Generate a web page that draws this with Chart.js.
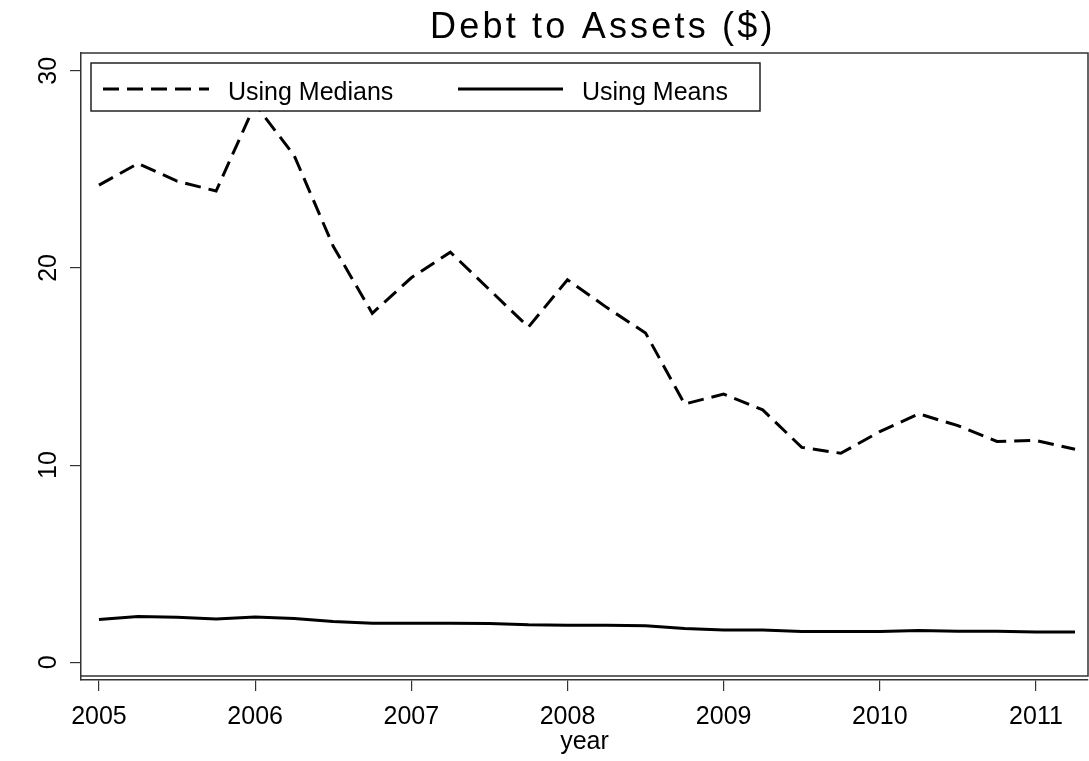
<!DOCTYPE html>
<html>
<head>
<meta charset="utf-8">
<title>Debt to Assets</title>
<script src="https://cdn.jsdelivr.net/npm/chart.js@4.4.1/dist/chart.umd.min.js"></script>
<style>
  html, body { margin: 0; padding: 0; background: #fff; }
  canvas { display: block; }
</style>
</head>
<body>
<canvas id="myChart" width="1089" height="761"></canvas>
<script>
// quarterly observations, 2005q1 .. 2011q2
var quarters = [2005, 2005.25, 2005.5, 2005.75, 2006, 2006.25, 2006.5, 2006.75,
                2007, 2007.25, 2007.5, 2007.75, 2008, 2008.25, 2008.5, 2008.75,
                2009, 2009.25, 2009.5, 2009.75, 2010, 2010.25, 2010.5, 2010.75,
                2011, 2011.25];
var medians = [24.2, 25.3, 24.4, 23.9, 28.3, 25.7, 21.1, 17.7,
               19.5, 20.8, 18.9, 17.0, 19.4, 18.0, 16.7, 13.1,
               13.6, 12.8, 10.9, 10.6, 11.7, 12.6, 12.0, 11.2,
               11.25, 10.8];
var means = [2.17, 2.32, 2.29, 2.2, 2.3, 2.22, 2.07, 1.98,
             1.98, 1.98, 1.97, 1.9, 1.88, 1.88, 1.85, 1.71,
             1.64, 1.64, 1.56, 1.56, 1.56, 1.61, 1.58, 1.58,
             1.54, 1.54];
var yearTicks = [2005, 2006, 2007, 2008, 2009, 2010, 2011];
var valueTicks = [0, 10, 20, 30];
var chartTitle = 'Debt to Assets ($)';

var fontFamily = '"Liberation Sans", Arial, Helvetica, sans-serif';
Chart.defaults.font.family = fontFamily;
Chart.defaults.color = '#000';

function toPoints(ys) {
    return quarters.map(function (q, i) { return {x: q, y: ys[i]}; });
}

// title with wide letter spacing, boxed plot region and boxed legend
const stataLook = {
    id: 'stataLook',
    afterDatasetsDraw(chart) {
        const ctx = chart.ctx;
        const a = chart.chartArea;
        ctx.save();

        // plot region box, a few px above the x axis line
        ctx.strokeStyle = '#333';
        ctx.lineWidth = 1.5;
        ctx.beginPath();
        ctx.moveTo(a.left, a.top);
        ctx.lineTo(a.right, a.top);
        ctx.lineTo(a.right, a.bottom - 4);
        ctx.lineTo(a.left, a.bottom - 4);
        ctx.stroke();

        // legend
        const bx = a.left + 10, by = a.top + 10, bw = 669, bh = 48;
        ctx.fillStyle = '#fff';
        ctx.fillRect(bx, by, bw, bh);
        ctx.strokeStyle = '#222';
        ctx.lineWidth = 1.5;
        ctx.strokeRect(bx, by, bw, bh);

        const items = [
            {x1: bx + 12, x2: bx + 118, tx: bx + 137},
            {x1: bx + 367, x2: bx + 472, tx: bx + 491}
        ];
        const midY = by + 26;
        ctx.font = '25px ' + fontFamily;
        ctx.textBaseline = 'alphabetic';
        chart.data.datasets.forEach(function (ds, i) {
            const it = items[i];
            ctx.strokeStyle = ds.borderColor;
            ctx.lineWidth = ds.borderWidth;
            ctx.setLineDash(ds.borderDash || []);
            ctx.beginPath();
            ctx.moveTo(it.x1, midY);
            ctx.lineTo(it.x2, midY);
            ctx.stroke();
            ctx.setLineDash([]);
            ctx.fillStyle = '#000';
            ctx.fillText(ds.label, it.tx, midY + 11);
        });

        // title
        ctx.font = '36px ' + fontFamily;
        ctx.letterSpacing = '3.2px';
        ctx.fillStyle = '#000';
        ctx.textAlign = 'left';
        ctx.fillText(chartTitle, 430, 38);
        ctx.restore();
    }
};

const data = {
    datasets: [{
        label: 'Using Medians',
        data: toPoints(medians),
        borderColor: '#000',
        borderWidth: 3,
        borderDash: [16, 8],
        pointRadius: 0,
        tension: 0
    }, {
        label: 'Using Means',
        data: toPoints(means),
        borderColor: '#000',
        borderWidth: 3,
        pointRadius: 0,
        tension: 0
    }]
};

const config = {
    type: 'line',
    data: data,
    options: {
        responsive: false,
        animation: false,
        layout: {padding: {top: 53, left: 0, right: 1, bottom: 0}},
        plugins: {
            legend: {display: false},
            title: {display: false},
            tooltip: {enabled: false}
        },
        scales: {
            x: {
                type: 'linear',
                min: 2004.885,
                max: 2011.333,
                afterFit: function (s) { s.height = 81; },
                afterBuildTicks: function (s) {
                    s.ticks = yearTicks.map(function (v) { return {value: v}; });
                },
                border: {display: true, color: '#333', width: 1.5},
                grid: {drawOnChartArea: false, drawTicks: true, tickLength: 11, color: '#333', lineWidth: 1.2},
                ticks: {
                    font: {size: 25},
                    color: '#000',
                    padding: 11,
                    maxRotation: 0,
                    callback: function (v) { return String(v); }
                },
                title: {
                    display: true,
                    text: 'year',
                    font: {size: 25},
                    color: '#000',
                    padding: {top: 0, bottom: 4}
                }
            },
            y: {
                min: -0.898,
                max: 30.9,
                afterFit: function (s) { s.width = 81; },
                afterBuildTicks: function (s) {
                    s.ticks = valueTicks.map(function (v) { return {value: v}; });
                },
                border: {display: true, color: '#333', width: 1.5},
                grid: {drawOnChartArea: false, drawTicks: true, tickLength: 11, color: '#333', lineWidth: 1.2},
                ticks: {
                    font: {size: 25},
                    color: '#000',
                    minRotation: 90,
                    maxRotation: 90,
                    crossAlign: 'center',
                    padding: 7
                }
            }
        }
    },
    plugins: [stataLook]
};

const myChart = new Chart(document.getElementById('myChart'), config);
</script>
</body>
</html>
